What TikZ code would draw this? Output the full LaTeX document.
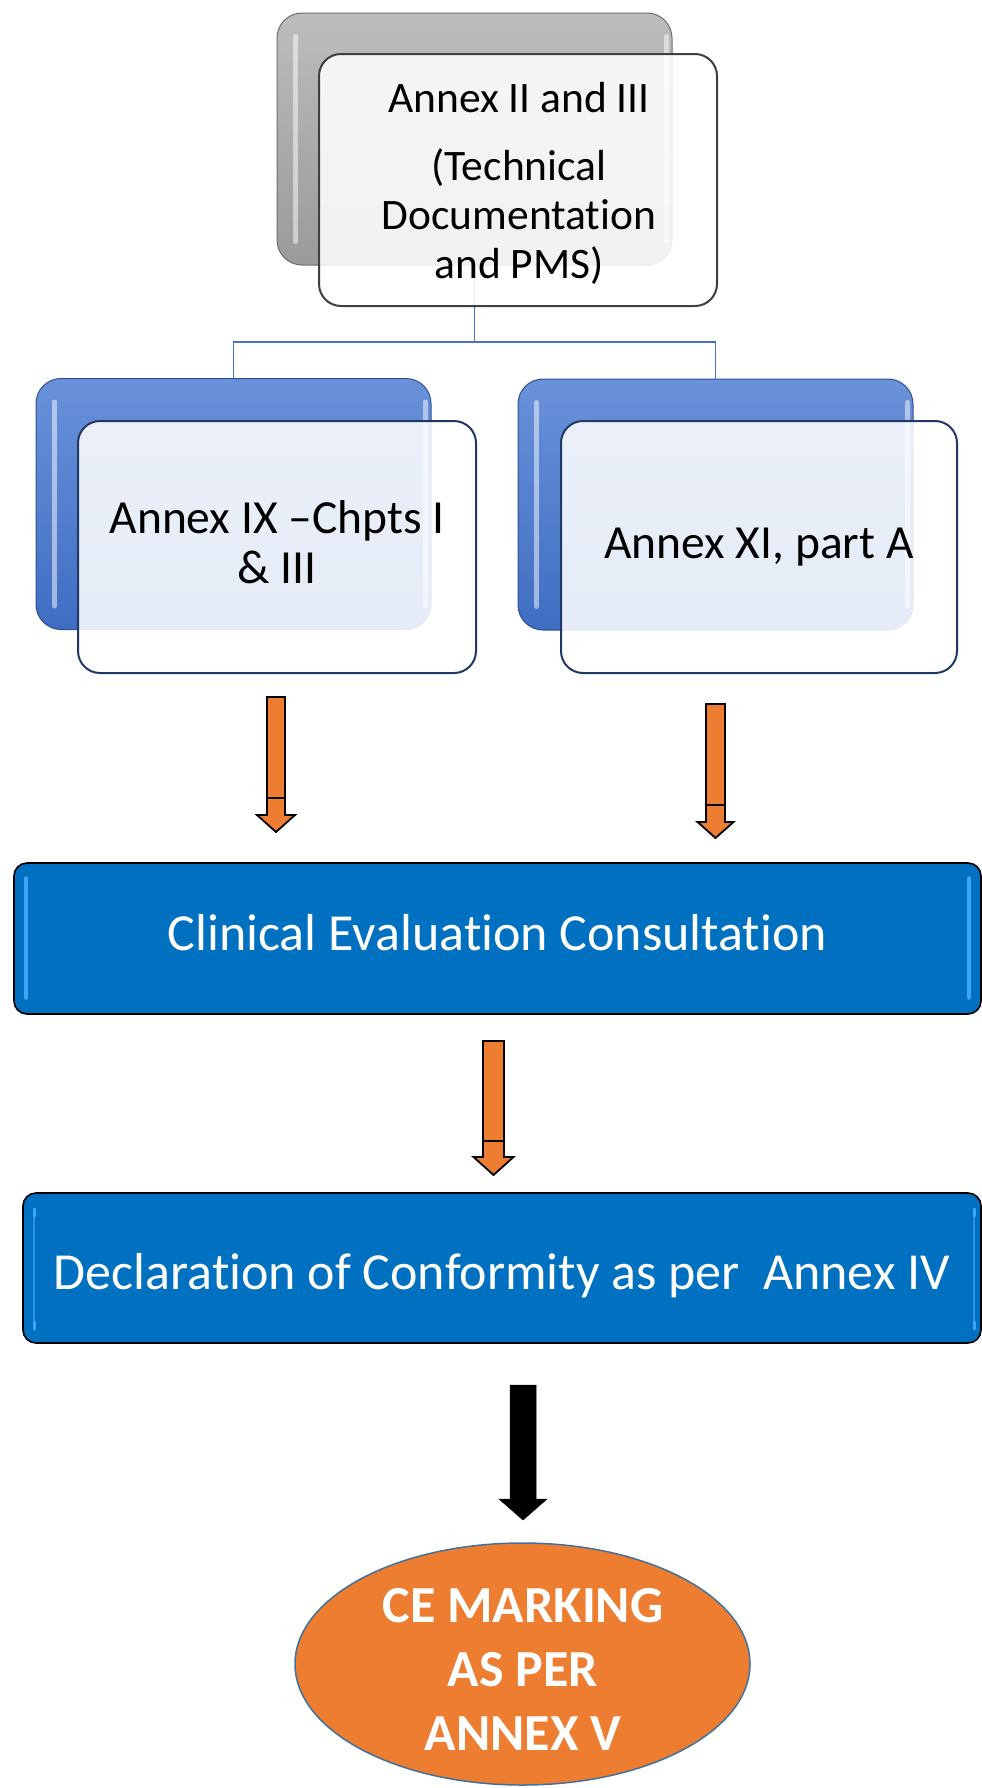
\documentclass[tikz,border=0pt]{standalone}
\usepackage{fontspec}
\setmainfont{Carlito}[Ligatures={NoCommon,NoContextual}]
\usetikzlibrary{calc,shapes.geometric}

\definecolor{linkblue}{HTML}{4472C4}
\definecolor{boxblue}{HTML}{0070C0}
\definecolor{glintblue}{HTML}{3DA5F4}
\definecolor{backtop}{HTML}{6A92DA}
\definecolor{backbot}{HTML}{3F6DC2}
\definecolor{backedge}{HTML}{2F528F}
\definecolor{graytop}{HTML}{BDBDBD}
\definecolor{graybot}{HTML}{9A9A9A}
\definecolor{grayedge}{HTML}{6E6E6E}
\definecolor{frontedge}{HTML}{203864}
\definecolor{darkedge}{HTML}{3F3F3F}
\definecolor{accent}{HTML}{ED7D31}
\definecolor{ovaledge}{HTML}{41719C}

% draws a block arrow: x, top, cross line, wing, tip, half shaft, half wing
\newcommand\blockarrow[8][arrowbody]{%
  \draw[#1] ({#2-#7},#3) -- ({#2+#7},#3) -- ({#2+#7},#5) -- ({#2+#8},#5)
    -- (#2,#6) -- ({#2-#8},#5) -- ({#2-#7},#5) -- cycle;
  \draw[#1,fill=none] ({#2-#7},#4) -- ({#2+#7},#4);}

% glossy vertical streaks inside a back panel
\newcommand\panelglint[1]{%
  \draw[glint] ($(#1.north west)+(19,24)$) -- ($(#1.south west)+(19,-24)$);
  \draw[glint] ($(#1.north east)+(-6,24)$) -- ($(#1.south east)+(-6,-24)$);}

\begin{document}
\begin{tikzpicture}[x=1pt,y=-1pt,
  backblue/.style={rectangle,rounded corners=25,draw=backedge,line width=1pt,
    top color=backtop,bottom color=backbot,minimum width=395,minimum height=251},
  backgray/.style={rectangle,rounded corners=25,draw=grayedge,line width=1pt,
    top color=graytop,bottom color=graybot,minimum width=395,minimum height=252},
  front/.style={rectangle,rounded corners=22,draw=frontedge,line width=2pt,
    fill=white,fill opacity=0.87,text opacity=1,minimum width=398,minimum height=252},
  glint/.style={line width=5pt,white,opacity=0.5,line cap=round},
  link/.style={draw=linkblue,line width=1.6pt},
  widebox/.style={rectangle,rounded corners=13,draw=black,line width=1.6pt,fill=boxblue},
  widetext/.style={text=white,font=\fontsize{52}{60}\selectfont,anchor=base,inner sep=0pt},
  boxtext/.style={align=center,inner sep=0pt,text=black},
  arrowbody/.style={fill=accent,draw=black,line width=1.8pt,line join=miter},
  blackarrow/.style={fill=black,draw=black,line width=0.5pt},
]
\useasboundingbox (0,0) rectangle (982,1788);

% back panels
\node[backgray] (gback) at (474.5,139) {};
\panelglint{gback}
\node[backblue] (lback) at (233.5,504) {};
\panelglint{lback}
\node[backblue] (rback) at (715.5,504.5) {};
\panelglint{rback}

% tree connector
\coordinate (split) at (474.5,342);
\draw[link] (gback.south) -- (split);
\draw[link] (split) -| (lback.north);
\draw[link] (split) -| (rback.north);

% front panels
\node[front,draw=darkedge] (tfront) at (518,180) {};
\node[front] (lfront) at (277,547) {};
\node[front,minimum width=396] (rfront) at (759,547) {};

\node[boxtext,font=\fontsize{43.5}{49}\selectfont] (ttext) at (519,183)
  {Annex II and III\\[19pt](Technical\\Documentation\\and PMS)};
\node[boxtext,font=\fontsize{47.5}{50}\selectfont] (ltext) at (277,542)
  {Annex IX --Chpts I\\\& III};
\node[boxtext,font=\fontsize{47.5}{50}\selectfont,anchor=base] (rtext) at (759,558)
  {Annex XI, part A};

% orange arrows
\blockarrow{276}{697}{798}{815}{832}{9}{19}
\blockarrow{715.5}{704}{805}{822}{838}{9.5}{18}

% clinical evaluation bar
\draw[widebox] (14,863) rectangle (981,1014);
\coordinate (clin) at (497.5,938.5);
\draw[line width=3.5pt,glintblue,line cap=round] (26,878) -- (26,998);
\draw[line width=3.5pt,glintblue,line cap=round] (969,878) -- (969,998);
\node[widetext] (cltext) at (497.5,950) {Clinical Evaluation Consultation};

\blockarrow{493.5}{1041}{1141}{1157}{1175}{10.5}{20}

% declaration bar
\draw[widebox] (23,1193) rectangle (981,1343);
\draw[line width=1.2pt,glintblue!70!boxblue] (34,1208) -- (34,1330);
\draw[line width=1.2pt,glintblue!70!boxblue] (974,1208) -- (974,1330);
\foreach \xx in {34,974}{
  \draw[line width=3pt,glintblue,line cap=round] (\xx,1209) -- (\xx,1216);
  \draw[line width=3pt,glintblue,line cap=round] (\xx,1322) -- (\xx,1329);}
\node[widetext] (dctext) at (502,1289) {Declaration of Conformity as per\ \ Annex IV};

% black arrow
\draw[blackarrow] (510,1385) -- (536,1385) -- (536,1499) -- (547,1499) -- (523,1520)
  -- (499,1499) -- (510,1499) -- cycle;

% final oval
\node[ellipse,fill=accent,draw=ovaledge,line width=1.5pt,minimum width=455,
  minimum height=242,inner sep=0pt] (ce) at (522.5,1664) {};
\node[align=center,text=white,font=\fontsize{52}{64}\selectfont\bfseries,inner sep=0pt]
  (cetext) at (523,1669) {CE MARKING\\AS PER\\ANNEX V};
\end{tikzpicture}
\end{document}
